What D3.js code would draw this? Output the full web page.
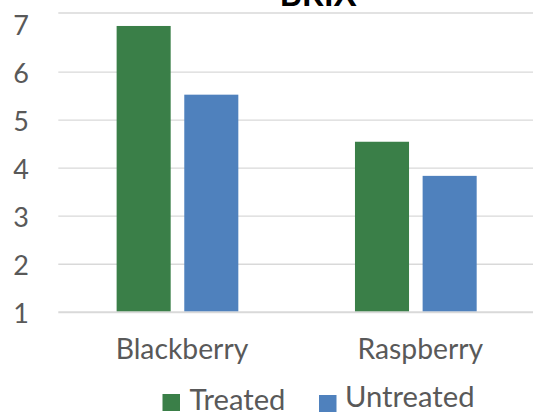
<!DOCTYPE html>
<html><head><meta charset="utf-8">
<script src="https://cdn.jsdelivr.net/npm/d3@7"></script>
<style>body{margin:0;background:#fff}svg{display:block}text{font-family:Lato,"Noto Sans",sans-serif}</style>
</head><body><div id="chart"></div>
<script>
const title = "BRIX";
const categories = ["Blackberry", "Raspberry"];
const seriesNames = ["Treated", "Untreated"];
const treated = [6.96, 4.55];
const untreated = [5.53, 3.84];
const yTicks = [1, 2, 3, 4, 5, 6, 7];
const yMax = 7.23;
const colors = ["#3A7F48", "#4F81BD"];

const W = 533, H = 413;
const svg = d3.select("#chart").append("svg").attr("width", W).attr("height", H);
const pLeft = 58.3, pRight = 535, pTop = 13, pBottom = 312.3;

const y = d3.scaleLinear().domain([1, yMax]).range([pBottom, pTop]);
const x0 = d3.scaleBand().domain(categories).range([pLeft, pRight]).padding(0);
const x1 = d3.scaleBand().domain(seriesNames)
  .range([x0.bandwidth() * 0.2447, x0.bandwidth() * (1 - 0.2447)])
  .paddingInner(0.201).paddingOuter(0);

// gridlines (ticks below the top plus the plot top line)
const gridVals = yTicks.filter(v => v < 7).concat([yMax]);
svg.append("g").selectAll("line").data(gridVals).join("line")
  .attr("x1", pLeft).attr("x2", pRight)
  .attr("y1", d => y(d)).attr("y2", d => y(d))
  .attr("stroke", "#D9D9D9").attr("stroke-width", d => d === 1 ? 2 : 1.3);

// bars
const rows = categories.map((c, i) => ({cat: c, vals: [treated[i], untreated[i]]}));
const g = svg.append("g").selectAll("g").data(rows).join("g")
  .attr("transform", d => `translate(${x0(d.cat)},0)`);
g.selectAll("rect").data(d => d.vals.map((v, j) => ({s: seriesNames[j], v, j}))).join("rect")
  .attr("x", d => x1(d.s)).attr("width", x1.bandwidth())
  .attr("y", d => y(d.v)).attr("height", d => y(1) - y(d.v) - 1)
  .attr("fill", d => colors[d.j]);

// y axis labels
const yAxis = d3.axisLeft(y).tickValues(yTicks).tickSize(0).tickPadding(0).tickFormat(d3.format("d"));
const ya = svg.append("g").attr("transform", "translate(29,2)").call(yAxis);
ya.select(".domain").remove();
ya.selectAll("text").attr("font-size", 27).attr("fill", "#595959").attr("font-family", "Lato,'Noto Sans',sans-serif");

// x axis labels
const xAxis = d3.axisBottom(x0).tickSize(0).tickPadding(0);
const xa = svg.append("g").attr("transform", "translate(4.5,339)").call(xAxis);
xa.select(".domain").remove();
xa.selectAll("text").attr("font-size", 28.3).attr("fill", "#595959").attr("font-family", "Lato,'Noto Sans',sans-serif");

// title
svg.append("text").attr("x", 318).attr("y", 6).attr("text-anchor", "middle")
  .attr("font-size", 34).attr("font-weight", "bold").attr("fill", "#000").text(title);

// legend
const legendPos = [{sx: 162.5, sy: 394, tx: 189.5, ty: 410}, {sx: 319, sy: 395, tx: 345, ty: 406.5}];
const lg = svg.append("g").selectAll("g").data(seriesNames).join("g");
lg.append("rect").attr("x", (d, i) => legendPos[i].sx).attr("y", (d, i) => legendPos[i].sy)
  .attr("width", 17.5).attr("height", 17).attr("fill", (d, i) => colors[i]);
lg.append("text").attr("x", (d, i) => legendPos[i].tx).attr("y", (d, i) => legendPos[i].ty)
  .attr("font-size", 29.2).attr("fill", "#595959").text(d => d);
</script></body></html>
